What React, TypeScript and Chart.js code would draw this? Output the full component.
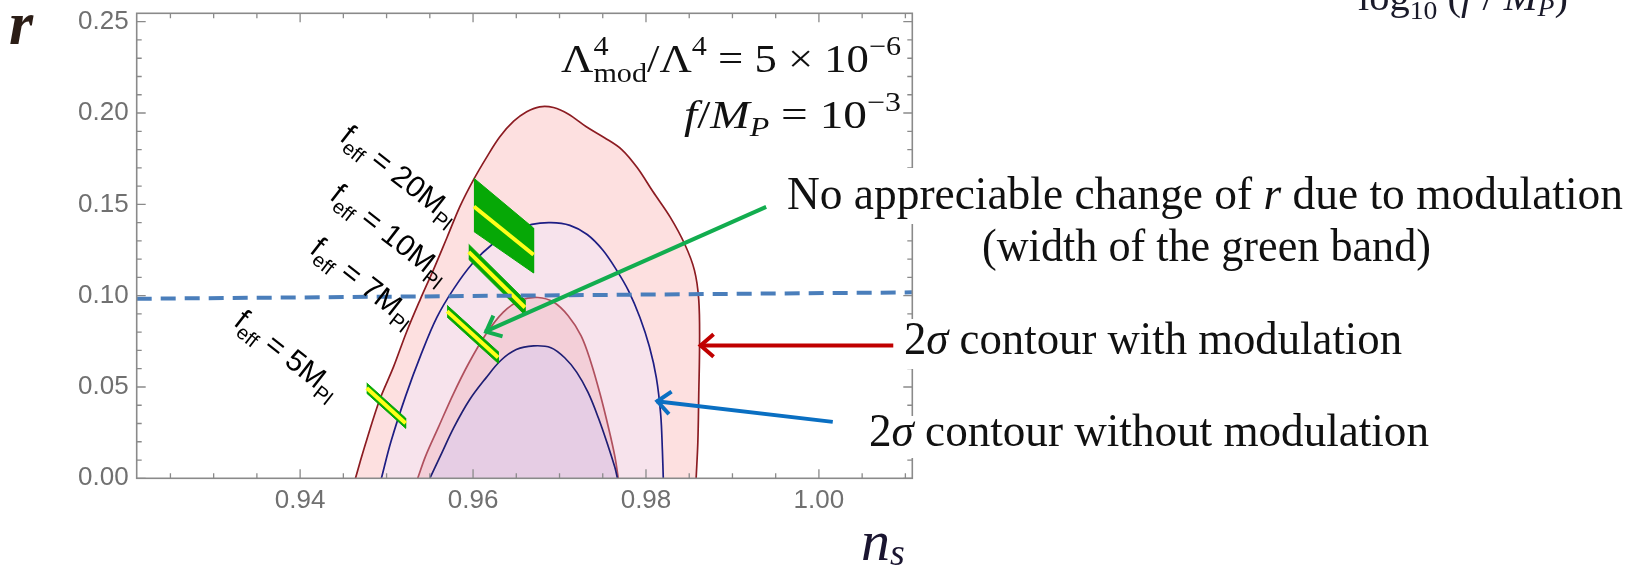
import React, { useEffect, useRef } from "react";
import { Chart, registerables } from "chart.js";

Chart.register(...registerables);

const WIDTH = 1643;
const HEIGHT = 566;

// Axis ranges (n_s horizontally, r vertically)
const NS_MIN = 0.9211;
const NS_MAX = 1.0108;
const R_MIN = 0;
const R_MAX = 0.2546;

const xTickValues = [0.94, 0.96, 0.98, 1.0];
const yTickValues = [0, 0.05, 0.1, 0.15, 0.2, 0.25];
const xMinorValues = [0.925, 0.93, 0.935, 0.945, 0.95, 0.955, 0.965, 0.97, 0.975, 0.985, 0.99, 0.995, 1.005, 1.01];
const yMinorValues = [
  0.01, 0.02, 0.03, 0.04, 0.06, 0.07, 0.08, 0.09, 0.11, 0.12, 0.13, 0.14, 0.16, 0.17, 0.18, 0.19, 0.21, 0.22,
  0.23, 0.24,
];

// 2-sigma contour with modulation (n_s, r)
const modulated2Sigma: [number, number][] = [
  [0.9464, 0.0], [0.947, 0.01], [0.9477, 0.021], [0.9492, 0.043], [0.9508, 0.061], [0.9523, 0.08],
  [0.9539, 0.098], [0.9554, 0.114], [0.957, 0.132], [0.9585, 0.149], [0.96, 0.163], [0.9616, 0.176],
  [0.9631, 0.187], [0.9647, 0.1955], [0.9662, 0.2007], [0.9677, 0.2034], [0.9693, 0.203], [0.971, 0.1995],
  [0.9731, 0.1925], [0.9752, 0.1865], [0.9772, 0.18], [0.979, 0.17], [0.9808, 0.157], [0.9828, 0.143],
  [0.9845, 0.128], [0.9856, 0.114], [0.9861, 0.098], [0.9862, 0.075], [0.9861, 0.045], [0.986, 0.02],
  [0.9858, 0.0],
];

// 2-sigma contour without modulation
const plain2Sigma: [number, number][] = [
  [0.9494, 0.0], [0.9505, 0.02], [0.9522, 0.045], [0.954, 0.068], [0.9558, 0.088], [0.9578, 0.104],
  [0.96, 0.118], [0.9622, 0.128], [0.9645, 0.135], [0.9668, 0.139], [0.969, 0.14], [0.9712, 0.1385],
  [0.9732, 0.1335], [0.975, 0.125], [0.9766, 0.114], [0.978, 0.1025], [0.9793, 0.088], [0.9804, 0.072],
  [0.9812, 0.055], [0.9817, 0.035], [0.9819, 0.015], [0.982, 0.0],
];

// 1-sigma contour with modulation
const modulated1Sigma: [number, number][] = [
  [0.9536, 0.0], [0.9545, 0.012], [0.956, 0.028], [0.9577, 0.046], [0.9595, 0.063], [0.9615, 0.079],
  [0.9635, 0.091], [0.9655, 0.0975], [0.9675, 0.099], [0.9693, 0.0965], [0.971, 0.089], [0.9725, 0.078],
  [0.9736, 0.064], [0.9747, 0.046], [0.9757, 0.027], [0.9764, 0.012], [0.9768, 0.0],
];

// 1-sigma contour without modulation
const plain1Sigma: [number, number][] = [
  [0.955, 0.0], [0.9562, 0.012], [0.9578, 0.028], [0.9596, 0.043], [0.9615, 0.055], [0.9632, 0.0645],
  [0.965, 0.0705], [0.967, 0.0725], [0.969, 0.0715], [0.9706, 0.066], [0.972, 0.058], [0.9733, 0.047],
  [0.9745, 0.033], [0.9756, 0.018], [0.9764, 0.006], [0.9767, 0.0],
];

// Predictions for several effective decay constants (green bands, yellow centre lines)
const bandNames = ["20", "10", "7", "5"];
const bandPolygons: [number, number][][] = [
  [[0.9601, 0.1643], [0.967, 0.137], [0.967, 0.1124], [0.9601, 0.1351]],
  [[0.9595, 0.1281], [0.966, 0.0976], [0.966, 0.0894], [0.9595, 0.1199]],
  [[0.957, 0.0947], [0.9629, 0.0694], [0.9629, 0.063], [0.957, 0.0883]],
  [[0.9477, 0.0522], [0.9522, 0.033], [0.9522, 0.0274], [0.9477, 0.0466]],
];
const bandCentreLines: [number, number][][] = [
  [[0.9601, 0.1488], [0.967, 0.1224]],
  [[0.9595, 0.124], [0.966, 0.0935]],
  [[0.957, 0.0915], [0.9629, 0.0662]],
  [[0.9477, 0.0494], [0.9522, 0.0302]],
];
const bandLabelNs = [0.95156, 0.9504, 0.94732, 0.93853];
const bandLabelR = [0.1661, 0.1339, 0.1075, 0.0678];

// Dashed reference line r ~ 0.1
const dashedLine: [number, number][] = [[NS_MIN, 0.0983], [NS_MAX, 0.1018]];

// Annotation arrows: tail -> tip in (n_s, r)
const arrowTails: [number, number][] = [[0.9939, 0.1486], [1.0086, 0.0727], [1.0016, 0.0309]];
const arrowTips: [number, number][] = [[0.9614, 0.0803], [0.9862, 0.0727], [0.9812, 0.0422]];
const arrowColors = ["#12ad4f", "#c00000", "#0a6fc2"];

const toPoints = (arr: [number, number][]) => arr.map(([x, y]) => ({ x, y }));

type Run = { text: string; size: number; dy?: number; italic?: boolean; sans?: boolean; overlap?: boolean; bold?: boolean };

const SERIF = '"Liberation Serif", "Times New Roman", serif';
const SANS = '"Liberation Sans", Arial, sans-serif';

function runFont(r: Run) {
  return `${r.italic ? "italic " : ""}${r.bold ? "bold " : ""}${r.size}px ${r.sans ? SANS : SERIF}`;
}

function layoutRuns(ctx: CanvasRenderingContext2D, runs: Run[]) {
  const xs: number[] = [];
  let w = 0;
  let prevStart = 0;
  let prevAdv = 0;
  runs.forEach((r) => {
    ctx.font = runFont(r);
    const mw = ctx.measureText(r.text).width;
    if (r.overlap) {
      xs.push(prevStart);
      prevAdv = Math.max(prevAdv, mw);
      w = prevStart + prevAdv;
    } else {
      xs.push(w);
      prevStart = w;
      prevAdv = mw;
      w += mw;
    }
  });
  return { xs, width: w };
}

function drawRuns(
  ctx: CanvasRenderingContext2D,
  runs: Run[],
  x: number,
  y: number,
  align: "left" | "right" | "center",
  color: string,
  fitWidth?: number
) {
  const { xs, width } = layoutRuns(ctx, runs);
  const sx = fitWidth ? fitWidth / width : 1;
  const total = width * sx;
  const left = align === "left" ? x : align === "right" ? x - total : x - total / 2;
  ctx.save();
  ctx.translate(left, y);
  ctx.scale(sx, 1);
  ctx.fillStyle = color;
  ctx.textAlign = "left";
  ctx.textBaseline = "alphabetic";
  runs.forEach((r, i) => {
    ctx.font = runFont(r);
    ctx.fillText(r.text, xs[i], r.dy ?? 0);
  });
  ctx.restore();
}

function drawArrow(ctx: CanvasRenderingContext2D, x1: number, y1: number, x2: number, y2: number, color: string) {
  ctx.save();
  ctx.strokeStyle = color;
  ctx.lineWidth = 4;
  ctx.lineCap = "butt";
  ctx.lineJoin = "miter";
  ctx.beginPath();
  ctx.moveTo(x1, y1);
  ctx.lineTo(x2, y2);
  ctx.stroke();
  const ang = Math.atan2(y1 - y2, x1 - x2);
  const L = 18;
  const spread = 0.68;
  ctx.beginPath();
  ctx.moveTo(x2 + L * Math.cos(ang + spread), y2 + L * Math.sin(ang + spread));
  ctx.lineTo(x2 + 1, y2);
  ctx.lineTo(x2 + L * Math.cos(ang - spread), y2 + L * Math.sin(ang - spread));
  ctx.stroke();
  ctx.restore();
}

const frameAndNotes = {
  id: "frameAndNotes",
  afterDatasetsDraw(chart: any) {
    const ctx: CanvasRenderingContext2D = chart.ctx;
    const { left, right, top, bottom } = chart.chartArea;
    const xs = chart.scales.x;
    const ys = chart.scales.y;
    ctx.save();
    ctx.strokeStyle = "#8a8a8a";
    ctx.lineWidth = 1.6;
    ctx.strokeRect(left, top, right - left, bottom - top);
    ctx.lineWidth = 1.3;
    ctx.beginPath();
    const xTick = (v: number, len: number) => {
      const px = xs.getPixelForValue(v);
      ctx.moveTo(px, bottom);
      ctx.lineTo(px, bottom - len);
      ctx.moveTo(px, top);
      ctx.lineTo(px, top + len);
    };
    const yTick = (v: number, len: number) => {
      const py = ys.getPixelForValue(v);
      ctx.moveTo(left, py);
      ctx.lineTo(left + len, py);
      ctx.moveTo(right, py);
      ctx.lineTo(right - len, py);
    };
    xTickValues.forEach((v) => xTick(v, 9));
    xMinorValues.forEach((v) => xTick(v, 5));
    yTickValues.forEach((v) => yTick(v, 9));
    yMinorValues.forEach((v) => yTick(v, 5));
    ctx.stroke();
    ctx.restore();
  },
  afterDraw(chart: any) {
    const ctx: CanvasRenderingContext2D = chart.ctx;
    const xs = chart.scales.x;
    const ys = chart.scales.y;
    const px = (v: number) => xs.getPixelForValue(v);
    const py = (v: number) => ys.getPixelForValue(v);

    // rotated f_eff labels
    bandNames.forEach((name, i) => {
      ctx.save();
      ctx.translate(px(bandLabelNs[i]), py(bandLabelR[i]));
      ctx.rotate((38 * Math.PI) / 180);
      drawRuns(
        ctx,
        [
          { text: "f", size: 30, sans: true },
          { text: "eff", size: 20, dy: 7, sans: true },
          { text: " = " + name + "M", size: 30, sans: true },
          { text: "Pl", size: 20, dy: 7, sans: true },
        ],
        0,
        10,
        "center",
        "#000000"
      );
      ctx.restore();
    });

    // arrows
    arrowTails.forEach((t, i) => {
      drawArrow(ctx, px(t[0]), py(t[1]), px(arrowTips[i][0]), py(arrowTips[i][1]), arrowColors[i]);
    });

    // white backing behind the notes
    ctx.save();
    ctx.fillStyle = "#ffffff";
    ctx.fillRect(786, 168, 840, 56);
    ctx.fillRect(900, 319, 505, 50);
    ctx.fillRect(866, 416, 566, 42);
    ctx.restore();

    const ink = "#111111";
    drawRuns(
      ctx,
      [
        { text: "No appreciable change of ", size: 46 },
        { text: "r", size: 46, italic: true },
        { text: " due to modulation", size: 46 },
      ],
      787,
      209,
      "left",
      ink,
      836
    );
    drawRuns(ctx, [{ text: "(width of the green band)", size: 46 }], 982, 261, "left", ink, 449);
    drawRuns(
      ctx,
      [
        { text: "2", size: 46 },
        { text: "σ", size: 46, italic: true },
        { text: " contour with modulation", size: 46 },
      ],
      904,
      354,
      "left",
      ink,
      498
    );
    drawRuns(
      ctx,
      [
        { text: "2", size: 46 },
        { text: "σ", size: 46, italic: true },
        { text: " contour without modulation", size: 46 },
      ],
      869,
      446,
      "left",
      ink,
      560
    );

    // parameter values
    drawRuns(
      ctx,
      [
        { text: "Λ", size: 40 },
        { text: "4", size: 27, dy: -17 },
        { text: "mod", size: 27, dy: 10, overlap: true },
        { text: "/Λ", size: 40 },
        { text: "4", size: 27, dy: -17 },
        { text: " = 5 × 10", size: 40 },
        { text: "−6", size: 27, dy: -17 },
      ],
      901,
      72,
      "right",
      ink,
      340
    );
    drawRuns(
      ctx,
      [
        { text: "f", size: 40, italic: true },
        { text: "/", size: 40 },
        { text: "M", size: 40, italic: true },
        { text: "P", size: 27, dy: 8, italic: true },
        { text: " = 10", size: 40 },
        { text: "−3", size: 27, dy: -17 },
      ],
      901,
      128,
      "right",
      ink,
      217
    );
    drawRuns(
      ctx,
      [
        { text: "log", size: 38 },
        { text: "10", size: 26, dy: 9 },
        { text: " (", size: 38 },
        { text: "f", size: 38, italic: true },
        { text: " / ", size: 38 },
        { text: "M", size: 38, italic: true },
        { text: "P", size: 26, dy: 6, italic: true },
        { text: ")", size: 38 },
      ],
      1358,
      10,
      "left",
      "#1a1a2a",
      210
    );

    // axis titles
    drawRuns(ctx, [{ text: "r", size: 62, italic: true, bold: true }], 9, 44, "left", "#2b1d16");
    drawRuns(
      ctx,
      [
        { text: "n", size: 58, italic: true },
        { text: "s", size: 38, italic: true, dy: 5 },
      ],
      861,
      560,
      "left",
      "#1a1530"
    );
  },
};

export default function App() {
  const canvasRef = useRef<HTMLCanvasElement | null>(null);

  useEffect(() => {
    const canvas = canvasRef.current;
    if (!canvas) return;

    const contour = (data: [number, number][], fillColor: string, lineColor: string, order: number) => ({
      data: toPoints(data),
      showLine: true,
      fill: "shape",
      backgroundColor: fillColor,
      borderColor: lineColor,
      borderWidth: 1.7,
      pointRadius: 0,
      tension: 0.35,
      order,
    });

    const datasets: any[] = [
      contour(modulated2Sigma, "#fde0e0", "#8c1c22", 20),
      contour(plain2Sigma, "#f7e3ec", "#1e1e84", 19),
      contour(modulated1Sigma, "#f3cfd8", "#b0505e", 18),
      contour(plain1Sigma, "#e6cde4", "#1e1e74", 17),
      ...bandPolygons.map((poly) => ({
        data: toPoints(poly),
        showLine: true,
        fill: "shape",
        backgroundColor: "#06a806",
        borderColor: "#06a806",
        borderWidth: 1,
        pointRadius: 0,
        tension: 0,
        order: 10,
      })),
      ...bandCentreLines.map((seg) => ({
        data: toPoints(seg),
        showLine: true,
        fill: false,
        borderColor: "#ffff1a",
        borderWidth: 4,
        borderCapStyle: "butt",
        pointRadius: 0,
        tension: 0,
        order: 8,
      })),
      {
        data: toPoints(dashedLine),
        showLine: true,
        fill: false,
        borderColor: "#4a7ebb",
        borderWidth: 4,
        borderDash: [15, 9],
        pointRadius: 0,
        tension: 0,
        order: 5,
      },
    ];

    const tickFont = { family: SANS, size: 26 };

    const chart = new Chart(canvas, {
      type: "scatter",
      data: { datasets },
      options: {
        animation: false,
        responsive: false,
        devicePixelRatio: 1,
        events: [],
        layout: { padding: { top: 13.3, right: 730.7, left: 0, bottom: 0 } },
        plugins: { legend: { display: false }, tooltip: { enabled: false } },
        scales: {
          x: {
            type: "linear",
            min: NS_MIN,
            max: NS_MAX,
            afterBuildTicks: (s: any) => {
              s.ticks = xTickValues.map((value) => ({ value }));
            },
            afterFit: (s: any) => {
              s.height = 87.7;
              s.paddingLeft = 0;
              s.paddingRight = 0;
            },
            grid: { display: false, drawTicks: false },
            border: { display: false },
            ticks: {
              padding: 7,
              color: "#707070",
              font: tickFont,
              maxRotation: 0,
              autoSkip: false,
              callback: (v: any) => Number(v).toFixed(2),
            },
          },
          y: {
            type: "linear",
            min: R_MIN,
            max: R_MAX,
            afterBuildTicks: (s: any) => {
              s.ticks = yTickValues.map((value) => ({ value }));
            },
            afterFit: (s: any) => {
              s.width = 136.7;
              s.paddingTop = 0;
              s.paddingBottom = 0;
            },
            grid: { display: false, drawTicks: false },
            border: { display: false },
            ticks: {
              padding: 8,
              color: "#707070",
              font: tickFont,
              autoSkip: false,
              callback: (v: any) => Number(v).toFixed(2),
            },
          },
        },
      } as any,
      plugins: [frameAndNotes],
    });

    return () => chart.destroy();
  }, []);

  return (
    <div style={{ position: "fixed", left: 0, top: 0, width: WIDTH, height: HEIGHT, background: "#ffffff" }}>
      <canvas ref={canvasRef} width={WIDTH} height={HEIGHT} style={{ display: "block" }} />
    </div>
  );
}
